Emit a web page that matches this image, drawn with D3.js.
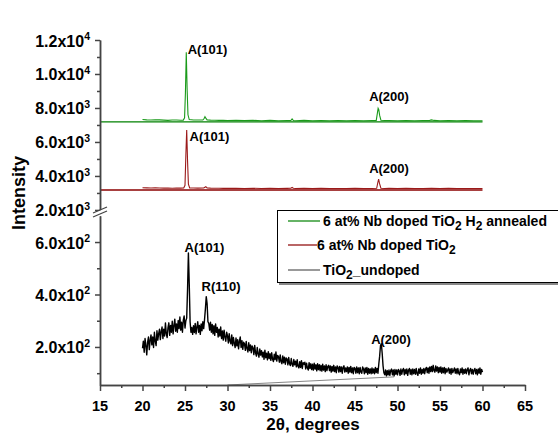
<!DOCTYPE html>
<html>
<head>
<meta charset="utf-8">
<script src="https://cdn.jsdelivr.net/npm/d3@7"></script>
<style>
  body { margin: 0; background: #fff; }
  svg { display: block; }
  text { font-family: Arial, "Liberation Sans", sans-serif; font-weight: bold; fill: #000; }
</style>
</head>
<body>
<svg id="chart" width="558" height="434"></svg>
<script>
// ---- XRD patterns: 2θ (degrees) vs intensity (counts) ----

// Undoped TiO2: scan from 20° to 60° in 0.1° steps
const undopedStart = 20;
const undopedStep = 0.1;
const undopedIntensity = [
  195,222,180,232,205,170,218,238,190,226,
  246,208,238,198,256,222,205,262,226,250,
  268,228,258,276,232,268,242,292,250,236,
  274,292,244,282,256,298,250,281,306,260,
  288,256,301,270,314,264,294,256,302,318,
  272,300,310,420,558,440,296,256,274,248,
  281,255,290,250,276,296,256,282,248,288,
  262,296,270,305,345,392,365,296,290,264,
  294,256,286,250,281,244,288,256,274,238,
  268,242,276,232,261,226,264,238,222,256,
  242,215,251,222,212,246,205,236,214,198,
  234,204,228,193,221,238,198,224,191,218,
  212,187,221,194,181,216,186,208,178,204,
  196,171,206,178,165,198,174,161,192,169,
  186,162,180,153,188,159,176,151,182,156,
  174,149,178,154,144,172,152,181,146,168,
  162,142,170,144,136,166,140,161,134,158,
  154,132,160,136,129,156,134,126,152,132,
  146,124,151,126,120,144,122,148,118,140,
  134,142,116,138,120,112,140,118,136,114,
  134,112,138,116,132,109,136,114,132,110,
  130,108,134,112,128,106,132,110,126,130,
  110,128,104,126,108,130,106,124,102,128,
  122,104,126,106,124,100,122,128,104,120,
  106,124,100,122,104,126,102,120,98,122,
  118,100,124,102,120,98,122,104,100,124,
  116,98,120,102,122,96,118,100,116,98,
  120,100,116,98,122,102,118,100,135,165,
  205,212,175,128,102,94,112,90,110,94,
  112,92,110,116,94,112,90,114,96,112,
  94,114,110,92,116,96,112,118,94,114,
  98,116,92,112,118,96,114,94,116,98,
  114,96,118,98,92,116,100,120,96,114,
  100,118,98,116,122,102,120,100,124,106,
  126,106,130,110,104,128,108,124,102,122,
  104,124,100,120,102,122,98,118,104,112,
  120,100,116,96,118,102,110,120,100,116,
  98,118,100,94,116,102,120,96,114,100,
  116,98,114,120,94,112,118,98,114,96,
  112,118,98,114,94,116,100,120,96,114,
  104
];

// 6 at% Nb doped TiO2, H2 annealed (offset pattern)
const annealedAngle = [
  20,20.5,21,21.5,22,22.5,23,23.5,24,24.5,24.8,24.95,25.05,25.15,25.25,25.35,25.5,
  26,26.5,27.1,27.25,27.35,27.45,27.6,28,28.5,29,29.5,30,31,32,33,34,35,36,37,
  37.45,37.6,37.75,38,39,40,41,42,43,44,45,46,47,47.5,47.62,47.72,47.8,47.9,48.05,
  48.5,49,50,51,52,53,53.8,54,54.3,55,56,57,58,59,60
];
const annealedIntensity = [
  7320,7300,7290,7305,7300,7285,7270,7290,7290,7280,7285,7420,8900,11280,9100,7600,7320,
  7290,7295,7290,7380,7490,7400,7300,7285,7280,7270,7275,7260,7280,7260,7270,7250,7270,7250,7260,
  7262,7360,7262,7250,7270,7250,7262,7250,7260,7250,7262,7250,7260,7270,7650,7980,7900,7560,7280,
  7262,7260,7250,7260,7250,7262,7270,7300,7268,7250,7260,7250,7260,7250,7250
];

// 6 at% Nb doped TiO2 (offset pattern)
const dopedAngle = [
  20,20.5,21,21.5,22,22.5,23,23.5,24,24.5,24.85,25.0,25.1,25.2,25.3,25.4,25.55,
  26,26.5,27.2,27.35,27.45,27.6,28,28.5,29,29.5,30,31,32,33,34,35,36,37,
  37.45,37.6,37.75,38,39,40,41,42,43,44,45,46,47,47.55,47.68,47.78,47.88,48.05,
  48.5,49,50,51,52,53,54,55,56,57,58,59,60
];
const dopedIntensity = [
  3310,3300,3290,3300,3295,3285,3290,3280,3290,3285,3290,3450,5200,6700,4900,3520,3300,
  3290,3285,3290,3340,3370,3300,3285,3280,3275,3270,3280,3270,3265,3275,3260,3270,3262,3270,
  3272,3320,3272,3262,3270,3260,3268,3260,3266,3258,3268,3260,3266,3275,3600,3820,3560,3280,
  3262,3270,3258,3268,3260,3266,3278,3262,3268,3258,3266,3260,3262
];

// Offset baselines of the two upper patterns
const seriesBaseline = [7180, 3176];
const baselineRange = [15, 60];

// Stray reference stroke in the lower panel
const strayStroke = [[30, 55], [49.6, 86]];

// Axis ticks
const angleTicks = [15, 20, 25, 30, 35, 40, 45, 50, 55, 60, 65];
const angleMinorTicks = [17.5, 22.5, 27.5, 32.5, 37.5, 42.5, 47.5, 52.5, 57.5, 62.5];
const upperTicks = [2000, 4000, 6000, 8000, 10000, 12000];
const upperMinorTicks = [3000, 5000, 7000, 9000, 11000];
const upperTickMantissa = ["2.0x10", "4.0x10", "6.0x10", "8.0x10", "1.0x10", "1.2x10"];
const upperTickExponent = ["3", "3", "3", "3", "4", "4"];
const lowerTicks = [200, 400, 600];
const lowerMinorTicks = [100, 300, 500];
const lowerTickMantissa = ["2.0x10", "4.0x10", "6.0x10"];
const lowerTickExponent = ["2", "2", "2"];

// Peak annotations (text centre angle, text baseline intensity, panel)
const peakText = ["A(101)", "A(200)", "A(101)", "A(200)", "A(101)", "R(110)", "A(200)"];
const peakAngle = [27.65, 49.0, 27.88, 49.0, 27.29, 29.24, 49.24];
const peakIntensity = [11176, 8411, 6059, 4176, 562, 413, 211];
const peakPanel = ["upper", "upper", "upper", "upper", "lower", "lower", "lower"];

// Legend entries
const legendNames = [
  [["6 at% Nb doped TiO", 0], ["2", 1], [" H", 0], ["2", 1], [" annealed", 0]],
  [["6 at% Nb doped TiO", 0], ["2", 1]],
  [["TiO", 0], ["2", 1], ["_undoped", 0]]
];
const legendColors = ["#008000", "#8b0000", "#555555"];

// ---- drawing ----
const svg = d3.select("#chart");
const axisColor = "#444";

const x = d3.scaleLinear().domain([15, 65]).range([100, 525]);
const yUpper = d3.scaleLinear().domain([1820, 12000]).range([213, 40]);
const yLower = d3.scaleLinear().domain([55, 700]).range([385, 215.8]);

const undoped = undopedIntensity.map((v, i) => [undopedStart + i * undopedStep, v]);
const annealed = annealedAngle.map((a, i) => [a, annealedIntensity[i]]);
const doped = dopedAngle.map((a, i) => [a, dopedIntensity[i]]);

const upperLine = d3.line().x(d => x(d[0])).y(d => yUpper(d[1]));
const lowerLine = d3.line().x(d => x(d[0])).y(d => yLower(d[1]));

// baselines of offset patterns
svg.selectAll("line.base").data(seriesBaseline).join("line")
  .attr("x1", x(baselineRange[0])).attr("x2", x(baselineRange[1]))
  .attr("y1", d => yUpper(d)).attr("y2", d => yUpper(d))
  .attr("stroke", (d, i) => i === 0 ? "#008000" : "#8b0000")
  .attr("stroke-width", 1.4);

svg.append("path").datum(annealed).attr("d", upperLine)
  .attr("fill", "none").attr("stroke", "#1a9a1a").attr("stroke-width", 1.1);
svg.append("path").datum(doped).attr("d", upperLine)
  .attr("fill", "none").attr("stroke", "#9b1a1a").attr("stroke-width", 1.1);

svg.append("path").datum(strayStroke).attr("d", lowerLine)
  .attr("fill", "none").attr("stroke", "#666").attr("stroke-width", 0.8);

svg.append("path").datum(undoped).attr("d", lowerLine)
  .attr("fill", "none").attr("stroke", "#000").attr("stroke-width", 1.4)
  .attr("stroke-linejoin", "round");

// axes
function styleAxis(g) {
  g.select(".domain").attr("stroke", axisColor).attr("stroke-width", 1.5);
  g.selectAll(".tick line").attr("stroke", axisColor).attr("stroke-width", 1.5);
  g.selectAll(".tick text").remove();
}

svg.append("g").attr("transform", "translate(0,385)")
  .call(d3.axisBottom(x).tickValues(angleTicks).tickSize(6).tickSizeOuter(0))
  .call(styleAxis);
svg.append("g").attr("transform", "translate(0,385)")
  .call(d3.axisBottom(x).tickValues(angleMinorTicks).tickSize(3).tickSizeOuter(0))
  .call(styleAxis);

svg.selectAll("text.xt").data(angleTicks).join("text")
  .attr("x", d => x(d)).attr("y", 410.5)
  .attr("text-anchor", "middle").attr("font-size", 14.5)
  .text(d => d);

svg.append("g").attr("transform", "translate(100,0)")
  .call(d3.axisLeft(yUpper).tickValues(upperTicks).tickSize(5).tickSizeOuter(0))
  .call(styleAxis);
svg.append("g").attr("transform", "translate(100,0)")
  .call(d3.axisLeft(yUpper).tickValues(upperMinorTicks).tickSize(3).tickSizeOuter(0))
  .call(styleAxis);
svg.append("g").attr("transform", "translate(100,0)")
  .call(d3.axisLeft(yLower).tickValues(lowerTicks).tickSize(5).tickSizeOuter(0))
  .call(styleAxis);
svg.append("g").attr("transform", "translate(100,0)")
  .call(d3.axisLeft(yLower).tickValues(lowerMinorTicks).tickSize(3).tickSizeOuter(0))
  .call(styleAxis);

function sciLabels(ticks, mant, expo, scale) {
  const t = svg.append("g").selectAll("text").data(ticks).join("text")
    .attr("x", 90).attr("y", d => scale(d) + 6.5)
    .attr("text-anchor", "end").attr("font-size", 16);
  t.append("tspan").text((d, i) => mant[i]);
  t.append("tspan").attr("font-size", 10.5).attr("dy", -6.5).text((d, i) => expo[i]);
}
sciLabels(upperTicks, upperTickMantissa, upperTickExponent, yUpper);
sciLabels(lowerTicks, lowerTickMantissa, lowerTickExponent, yLower);

// axis break marks
const brk = svg.append("g");
brk.append("polygon").attr("points", "93,213.5 107,207.5 107,211 93,217").attr("fill", "#fff");
brk.append("line").attr("x1", 93).attr("y1", 213).attr("x2", 107).attr("y2", 207)
  .attr("stroke", axisColor).attr("stroke-width", 1.3);
brk.append("line").attr("x1", 93).attr("y1", 217).attr("x2", 107).attr("y2", 211)
  .attr("stroke", axisColor).attr("stroke-width", 1.3);

// peak annotations
svg.selectAll("text.peak").data(peakText).join("text")
  .attr("x", (d, i) => x(peakAngle[i]))
  .attr("y", (d, i) => (peakPanel[i] === "upper" ? yUpper : yLower)(peakIntensity[i]))
  .attr("text-anchor", "middle").attr("font-size", 13)
  .text(d => d);

// axis titles
svg.append("text").attr("x", 313).attr("y", 430)
  .attr("text-anchor", "middle").attr("font-size", 17)
  .text("2\u03b8, degrees");
svg.append("text").attr("transform", "translate(25,193) rotate(-90)")
  .attr("text-anchor", "middle").attr("font-size", 18)
  .text("Intensity");

// legend
const lg = svg.append("g");
lg.append("rect").attr("x", 279).attr("y", 212).attr("width", 290).attr("height", 73).attr("fill", "#888");
lg.append("rect").attr("x", 277.5).attr("y", 210.5).attr("width", 290).attr("height", 72)
  .attr("fill", "#fff").attr("stroke", "#000").attr("stroke-width", 1);
const rowY = [221, 245, 270];
const lineEnd = [320, 317, 320];
const textStart = [323, 317, 323];
legendNames.forEach((parts, i) => {
  lg.append("line").attr("x1", 288).attr("x2", lineEnd[i])
    .attr("y1", rowY[i]).attr("y2", rowY[i])
    .attr("stroke", legendColors[i]).attr("stroke-width", 1.2);
  const t = lg.append("text").attr("x", textStart[i]).attr("y", rowY[i] + 4.5).attr("font-size", 14);
  let shifted = false;
  parts.forEach(([s, sub]) => {
    const ts = t.append("tspan").text(s);
    if (sub && !shifted) { ts.attr("dy", 4).attr("font-size", 12); shifted = true; }
    else if (!sub && shifted) { ts.attr("dy", -4); shifted = false; }
    else if (sub) ts.attr("font-size", 12);
  });
});
</script>
</body>
</html>
